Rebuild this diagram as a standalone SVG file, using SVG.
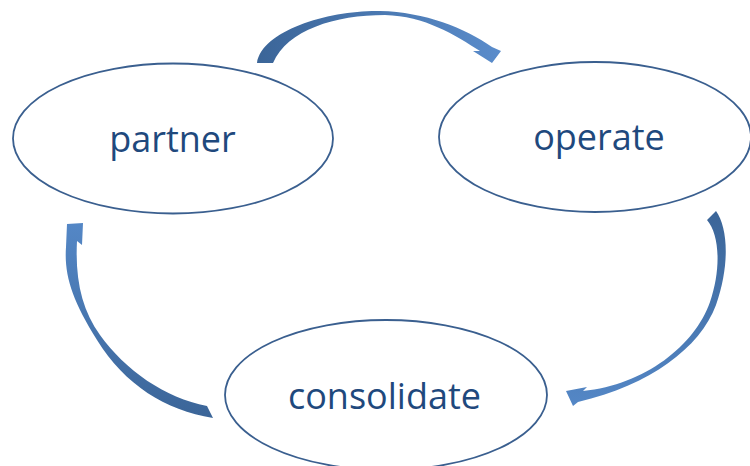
<svg xmlns="http://www.w3.org/2000/svg" width="750" height="466" viewBox="0 0 750 466">
<style>
.node ellipse{fill:#ffffff;stroke:#3A5F8F;stroke-width:1.8}
.node text{font-family:"Open Sans","Noto Sans","Liberation Sans",sans-serif;font-size:36px;fill:#1F497D;text-anchor:middle}
</style>
<defs>
<linearGradient id="gTop" x1="0" y1="0" x2="1" y2="0">
<stop offset="0" stop-color="#3B6598"/><stop offset="1" stop-color="#5A8CCB"/>
</linearGradient>
<linearGradient id="gRight" x1="0" y1="0" x2="0" y2="1">
<stop offset="0" stop-color="#3B6598"/><stop offset="1" stop-color="#5487C6"/>
</linearGradient>
<linearGradient id="gLeft" x1="0" y1="1" x2="0" y2="0">
<stop offset="0" stop-color="#3B6598"/><stop offset="1" stop-color="#5487C6"/>
</linearGradient>
</defs>
<rect width="750" height="466" fill="#ffffff"/>
<g id="connectors">
<path id="arrow-partner-operate" fill="url(#gTop)" d="M257,63 C262,30 330,10 380,11 C425,12 465,28 492,47 L501,51 L492,63 L473,51 L480,51 C455,35 425,16 385,15 C335,15 287,30 273,63 Z"/>
<path id="arrow-operate-consolidate" fill="url(#gRight)" d="M716,211 C728,228 730,265 716,305 C700,348 650,385 578,402 L573,406 L566,391 L587,387 L583,391 C645,385 695,345 710,302 C721,270 720,235 707,220 Z"/>
<path id="arrow-consolidate-partner" fill="url(#gLeft)" d="M67,224 L83,223 L82,245 L77,241 C75,280 82,310 100,335 C125,370 165,398 207,406 L213,418 C165,410 125,385 97,340 C72,300 64,275 66,247 Z"/>
</g>
<g id="partner" class="node">
<ellipse cx="173" cy="138.5" rx="160" ry="75"/>
<text x="172.5" y="152">partner</text>
</g>
<g id="operate" class="node">
<ellipse cx="595" cy="137" rx="156" ry="75"/>
<text x="599" y="150">operate</text>
</g>
<g id="consolidate" class="node">
<ellipse cx="386" cy="395" rx="161" ry="75"/>
<text x="384.5" y="409">consolidate</text>
</g>
</svg>
